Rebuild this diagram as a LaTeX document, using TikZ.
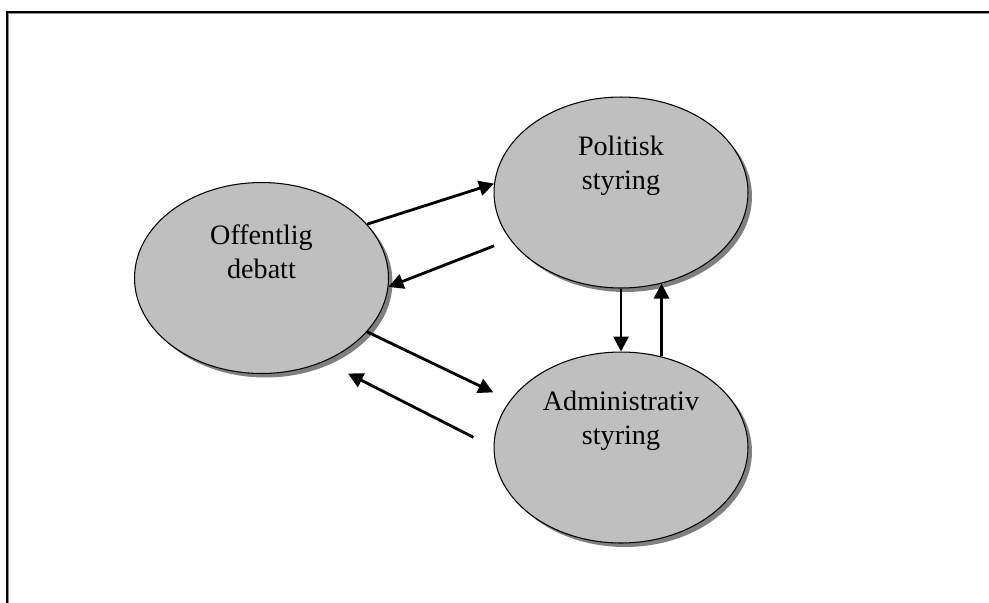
\documentclass[tikz,border=0pt]{standalone}
\usepackage{fontspec}
\setmainfont{Liberation Serif}
\usetikzlibrary{arrows.meta,
shapes.geometric,
shadows
}
\tikzset{>={Triangle[length=0.3cm, width=0.3cm]}}

\begin{document}
\begin{tikzpicture}[x=0.02cm, y=-0.02cm,
    blob/.style={ellipse, draw, line width=0.6pt, fill=black!25,
        minimum width=5.08cm, minimum height=3.82cm, inner sep=0pt,
        drop shadow={shadow xshift=0.08cm, shadow yshift=-0.08cm, fill=black!50, opacity=1}},
    blobtext/.style={align=center, font=\fontsize{16}{19.5}\selectfont},
    flow/.style={->, line width=1.6pt}]
                \useasboundingbox (0,0) rectangle (989,602);

                % frame
                \draw[black!45, line width=0.9pt] (8.5,620) -- (8.5,13.5) -- (1000,13.5);
                \draw[line width=0.9pt] (7,620) -- (7,12) -- (1000,12);

                \node[blob] (pol) at (621,192.5) {};
                \node[blob] (off) at (261.5,278) {};
                \node[blob] (adm) at (621,447.5) {};

                \node[blobtext] (pol-txt) at ([yshift=0.53cm]pol.center) {Politisk\\styring};
                \node[blobtext] (off-txt) at ([yshift=0.52cm]off.center) {Offentlig\\debatt};
                \node[blobtext] (adm-txt) at ([yshift=0.53cm]adm.center) {Administrativ\\styring};

                \draw[flow] (off.27) -- (pol.176);
                \draw[flow, shorten <=0.34cm] (pol.203) -- (off.-4);
                \draw[flow, shorten >=0.37cm] (off.-27) -- (adm.157);
                \draw[flow, shorten <=0.45cm, shorten >=0.53cm] (adm.180) -- (off.-53);

                \draw[flow] (pol.270) -- (adm.90);
                \draw[flow] (adm.66) -- (adm.66 |- pol.-66);
\end{tikzpicture}
\end{document}
